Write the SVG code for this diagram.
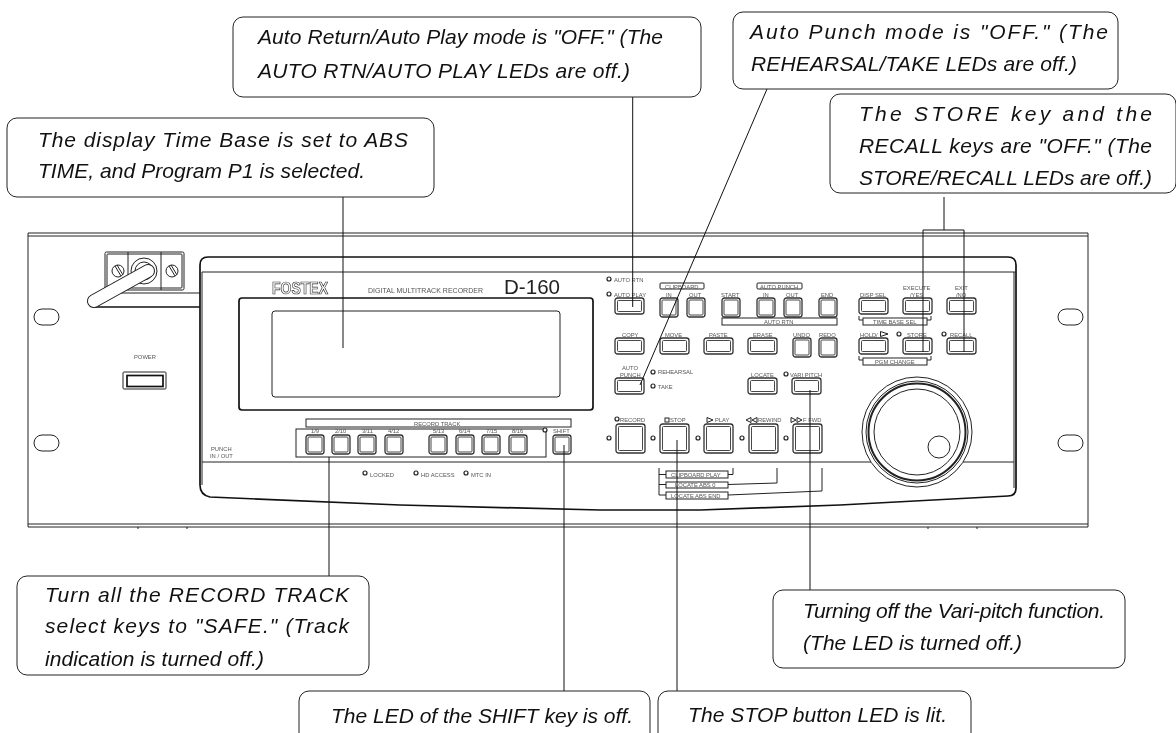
<svg xmlns="http://www.w3.org/2000/svg" width="1176" height="733" viewBox="0 0 1176 733">
<style>
.l{fill:none;stroke:#222;stroke-width:1}
.b{fill:none;stroke:#111;stroke-width:1.7}
.w{fill:#fff;stroke:#222;stroke-width:1}
.t{font-family:"Liberation Sans",Arial,sans-serif;font-size:5.8px;fill:#555}
.c{font-family:"Liberation Sans",Arial,sans-serif;font-size:21px;font-style:italic;fill:#111}
.box{fill:#fff;stroke:#222;stroke-width:1}
.o{fill:#fff;stroke:#333;stroke-width:1.3}
.i{fill:none;stroke:#333;stroke-width:.9}
.led{fill:#fff;stroke:#222;stroke-width:1.2}
.cn{fill:none;stroke:#111;stroke-width:1}
.s{filter:url(#soft)}
</style>
<defs>
<filter id="soft" filterUnits="userSpaceOnUse" x="0" y="0" width="1176" height="733" color-interpolation-filters="sRGB"><feGaussianBlur stdDeviation="0.28"/></filter>
<g id="ks"><rect class="o" x="0" y="0" width="18" height="19" rx="2.5"/><rect class="i" x="2" y="2" width="14" height="15" rx="1"/></g>
<g id="kw"><rect class="o" x="0" y="0" width="29" height="16" rx="2.5"/><rect class="i" x="2.5" y="2.5" width="24" height="11" rx="1"/></g>
<g id="kb"><rect class="o" x="0" y="0" width="29" height="29" rx="2.5"/><rect class="i" x="2.5" y="2.5" width="24" height="24" rx="1"/></g>
<rect id="ob" class="l" x="0" y="0" width="25" height="16" rx="8"/>
</defs>
<g id="rack" class="s">
<path class="l" d="M28 233H1088V527H28ZM28 236H1088M28 524H1088M138 527V529M187 527V529M928 527V529M977 527V529"/>
<use href="#ob" x="34" y="309"/><use href="#ob" x="34" y="435"/><use href="#ob" x="1058" y="309"/><use href="#ob" x="1058" y="435"/>
<path class="l" d="M113 293H200"/><path class="b" d="M95 307H200"/>
<rect class="l" x="105" y="252" width="79" height="38" rx="1.5"/><rect class="l" x="107" y="254" width="75" height="34" rx="1"/>
<path class="l" d="M128 252V290M161 252V290"/>
<circle class="l" cx="118" cy="271" r="6"/><circle class="l" cx="172" cy="271" r="6"/>
<path class="l" d="M115 266L121 276M117 265L123 275M169 266L175 276M171 265L177 275"/>
<circle class="l" cx="144" cy="271" r="13"/><circle class="l" cx="144" cy="271" r="9"/>
<path d="M94 301L148 271" fill="none" stroke="#222" stroke-width="14" stroke-linecap="round"/>
<path d="M94 301L148 271" fill="none" stroke="#fff" stroke-width="12" stroke-linecap="round"/>
<text class="t" x="134" y="359">POWER</text>
<rect class="l" x="123" y="372" width="43" height="17" rx="1"/><rect class="b" x="127" y="375.500" width="36" height="11"/>
</g>
<g id="front" class="s">
<path class="b" style="fill:#fff" d="M208 257H1008Q1016 257 1016 265V488Q1016 496 1008 496L840 505L700 510H600L400 505L210 497Q200 495 200 485V265Q200 257 208 257Z"/>
<path class="l" d="M202 272H1016M202 462H1014M202 272V485M1014 272V488"/>
<text x="272" y="294" textLength="56" lengthAdjust="spacingAndGlyphs" style="font-family:'Liberation Sans',sans-serif;font-size:16.500px;font-weight:bold;fill:#fff;stroke:#333;stroke-width:.7">FOSTEX</text>
<text x="368" y="293" textLength="115" style="font-family:'Liberation Sans',sans-serif;font-size:7px;fill:#555">DIGITAL MULTITRACK RECORDER</text>
<text x="504" y="294" textLength="56" lengthAdjust="spacingAndGlyphs" style="font-family:'Liberation Sans',sans-serif;font-size:21px;fill:#222">D-160</text>
<rect class="b" x="239" y="298" width="354" height="112" rx="3"/>
<rect class="l" x="272" y="311" width="288" height="86" rx="3"/>
<rect class="l" x="306" y="419" width="265" height="8"/>
<rect class="l" x="296" y="429" width="250" height="28"/>
<text class="t" x="414" y="426">RECORD TRACK</text>
<text class="t" x="311" y="433">1/9</text><text class="t" x="335" y="433">2/10</text><text class="t" x="362" y="433">3/11</text><text class="t" x="388" y="433">4/12</text><text class="t" x="433" y="433">5/13</text><text class="t" x="459" y="433">6/14</text><text class="t" x="486" y="433">7/15</text><text class="t" x="512" y="433">8/16</text><text class="t" x="553" y="433">SHIFT</text>
<text class="t" x="211" y="451">PUNCH</text><text class="t" x="210" y="458">IN / OUT</text>
<circle class="led" cx="365" cy="473" r="2"/><text class="t" x="370" y="477">LOCKED</text>
<circle class="led" cx="416" cy="473" r="2"/><text class="t" x="421" y="477">HD ACCESS</text>
<circle class="led" cx="466" cy="473" r="2"/><text class="t" x="471" y="477">MTC IN</text>
<circle class="led" cx="545" cy="430" r="2"/>
<use href="#ks" x="306" y="435"/><use href="#ks" x="332" y="435"/><use href="#ks" x="358" y="435"/><use href="#ks" x="385" y="435"/><use href="#ks" x="429" y="435"/><use href="#ks" x="456" y="435"/><use href="#ks" x="482" y="435"/><use href="#ks" x="509" y="435"/><use href="#ks" x="553" y="435"/>
<use href="#kw" x="615" y="298"/><use href="#ks" x="660" y="298"/><use href="#ks" x="687" y="298"/><use href="#ks" x="722" y="298"/><use href="#ks" x="757" y="298"/><use href="#ks" x="784" y="298"/><use href="#ks" x="819" y="298"/>
<use href="#kw" x="859" y="298"/><use href="#kw" x="903" y="298"/><use href="#kw" x="947" y="298"/>
<use href="#kw" x="615" y="338"/><use href="#kw" x="660" y="338"/><use href="#kw" x="704" y="338"/><use href="#kw" x="748" y="338"/><use href="#ks" x="793" y="338"/><use href="#ks" x="819" y="338"/>
<use href="#kw" x="859" y="338"/><use href="#kw" x="903" y="338"/><use href="#kw" x="947" y="338"/>
<use href="#kw" x="615" y="378"/><use href="#kw" x="748" y="378"/><use href="#kw" x="792" y="378"/>
<use href="#kb" x="616" y="424"/><use href="#kb" x="660" y="424"/><use href="#kb" x="704" y="424"/><use href="#kb" x="749" y="424"/><use href="#kb" x="793" y="424"/>
<circle class="w" cx="917" cy="432" r="55"/>
<circle cx="917" cy="432" r="48.500" fill="#fff" stroke="#222" stroke-width="2"/><circle class="l" cx="917" cy="432" r="51"/><circle class="l" cx="917" cy="432" r="43"/><circle class="l" cx="939" cy="447" r="11"/>
<text class="t" x="614" y="282">AUTO RTN</text><text class="t" x="614" y="297">AUTO PLAY</text><circle class="led" cx="609" cy="279" r="2"/><circle class="led" cx="609" cy="294" r="2"/>
<rect class="l" x="660" y="283" width="44" height="6" rx="1"/><rect class="l" x="757" y="283" width="45" height="6" rx="1"/>
<text class="t" x="665" y="289">CLIPBOARD</text><text class="t" x="666" y="297">IN</text><text class="t" x="689" y="297">OUT</text><text class="t" x="721" y="297">START</text><text class="t" x="763" y="297">IN</text><text class="t" x="786" y="297">OUT</text><text class="t" x="821" y="297">END</text><text class="t" x="760" y="289">AUTO PUNCH</text><text class="t" x="860" y="297">DISP SEL</text><text class="t" x="903" y="290">EXECUTE</text><text class="t" x="910" y="297">/YES</text><text class="t" x="955" y="290">EXIT</text><text class="t" x="956" y="297">/NO</text>
<rect class="l" x="722" y="318" width="115" height="7"/><text class="t" x="764" y="324">AUTO RTN</text>
<rect class="l" x="863" y="318" width="64" height="7"/><rect class="l" x="863" y="358" width="64" height="7"/>
<text class="t" x="873" y="324">TIME BASE SEL</text><text class="t" x="875" y="364">PGM CHANGE</text>
<path class="l" d="M859 316V320H863M931 316V320H927M859 356V360H863M931 356V360H927"/>
<text class="t" x="622" y="337">COPY</text><text class="t" x="665" y="337">MOVE</text><text class="t" x="709" y="337">PASTE</text><text class="t" x="753" y="337">ERASE</text><text class="t" x="793" y="337">UNDO</text><text class="t" x="819" y="337">REDO</text><text class="t" x="860" y="337">HOLD/</text><text class="t" x="907" y="337">STORE</text><text class="t" x="950" y="337">RECALL</text><circle class="led" cx="899" cy="334" r="2"/><circle class="led" cx="944" cy="334" r="2"/>
<text class="t" x="622" y="370">AUTO</text><text class="t" x="620" y="377">PUNCH</text><circle class="led" cx="653" cy="372" r="2"/><text class="t" x="658" y="374">REHEARSAL</text><circle class="led" cx="653" cy="386" r="2"/><text class="t" x="658" y="389">TAKE</text>
<text class="t" x="751" y="377">LOCATE</text><circle class="led" cx="786" cy="374" r="2"/><text class="t" x="790" y="377">VARI PITCH</text>
<circle class="led" cx="617" cy="419" r="2"/><text class="t" x="620" y="422">RECORD</text><rect class="l" x="665" y="418" width="4" height="4"/><text class="t" x="670" y="422">STOP</text><text class="t" x="715" y="422">PLAY</text><text class="t" x="758" y="422">REWIND</text><text class="t" x="803" y="422">F FWD</text>
<path class="l" d="M707 417.500L713 420L707 422.500ZM751 417.500L746 420L751 422.500ZM757 417.500L752 420L757 422.500ZM791 417.500L796 420L791 422.500ZM797 417.500L802 420L797 422.500ZM880.500 331.500L888 334L880.500 336.500Z"/>
<circle class="led" cx="609" cy="438" r="2"/><circle class="led" cx="653" cy="438" r="2"/><circle class="led" cx="698" cy="438" r="2"/><circle class="led" cx="742" cy="438" r="2"/><circle class="led" cx="786" cy="438" r="2"/>
<rect class="l" x="666" y="471" width="62" height="7"/><rect class="l" x="666" y="482" width="62" height="6"/><rect class="l" x="666" y="492" width="62" height="7"/>
<text class="t" x="671" y="477">CLIPBOARD PLAY</text><text class="t" x="675" y="487">LOCATE ABS 0</text><text class="t" x="671" y="498">LOCATE ABS END</text>
<path class="l" d="M659 468V495H666M659 474.500H666M659 484.500H666M728 474.500H733V468M728 484.500L777 483V468M728 495L822 491V468"/>
</g>
<g id="connectors" class="s">
<path class="cn" d="M343 197V348M632.700 97V307M767 89L640 385M329 457V576M564 445V691M677 440V691M810 390V590M944 197V230M923 352V230H964V352"/>
</g>
<g id="c1" class="s"><rect class="box" x="233" y="17" width="468" height="80" rx="10"/>
<text class="c" x="258" y="44" textLength="405">Auto Return/Auto Play mode is "OFF." (The</text><text class="c" x="258" y="78" textLength="372">AUTO RTN/AUTO PLAY LEDs are off.)</text></g>
<g id="c2" class="s"><rect class="box" x="733" y="12" width="385" height="77" rx="10"/>
<text class="c" x="750" y="39" textLength="358">Auto Punch mode is "OFF." (The</text><text class="c" x="751" y="71" textLength="326">REHEARSAL/TAKE LEDs are off.)</text></g>
<g id="c3" class="s"><rect class="box" x="7" y="118" width="427" height="79" rx="10"/>
<text class="c" x="38" y="147" textLength="370">The display Time Base is set to ABS</text><text class="c" x="38" y="178" textLength="327">TIME, and Program P1 is selected.</text></g>
<g id="c4" class="s"><rect class="box" x="830" y="94" width="346" height="99" rx="10"/>
<text class="c" x="859" y="121" textLength="293">The STORE key and the</text><text class="c" x="859" y="153" textLength="293">RECALL keys are "OFF." (The</text><text class="c" x="859" y="185" textLength="293">STORE/RECALL LEDs are off.)</text></g>
<g id="c5" class="s"><rect class="box" x="17" y="576" width="352" height="99" rx="10"/>
<text class="c" x="45" y="602" textLength="304">Turn all the RECORD TRACK</text><text class="c" x="45" y="633" textLength="304">select keys to "SAFE." (Track</text><text class="c" x="45" y="666" textLength="219">indication is turned off.)</text></g>
<g id="c6" class="s"><rect class="box" x="773" y="590" width="352" height="78" rx="10"/>
<text class="c" x="803" y="618" textLength="302">Turning off the Vari-pitch function.</text><text class="c" x="803" y="650" textLength="219">(The LED is turned off.)</text></g>
<g id="c7" class="s"><rect class="box" x="299" y="691" width="351" height="70" rx="10"/>
<text class="c" x="331" y="723" textLength="302">The LED of the SHIFT key is off.</text></g>
<g id="c8" class="s"><rect class="box" x="658" y="691" width="313" height="70" rx="10"/>
<text class="c" x="688" y="722" textLength="259">The STOP button LED is lit.</text></g>
</svg>
